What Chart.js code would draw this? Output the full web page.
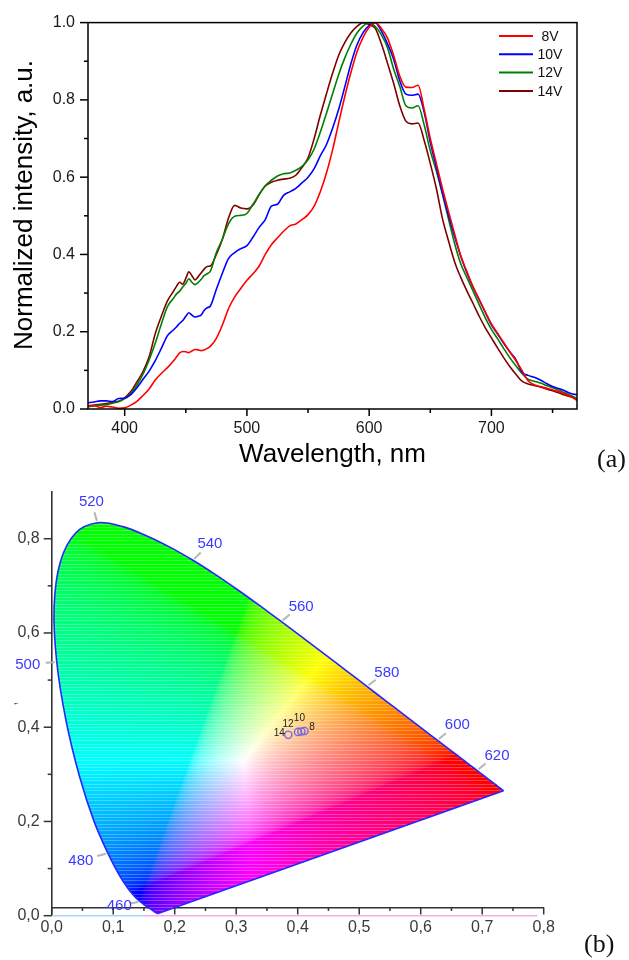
<!DOCTYPE html>
<html>
<head>
<meta charset="utf-8">
<script src="https://cdn.jsdelivr.net/npm/chart.js@4.4.1/dist/chart.umd.min.js"></script>
<style>
  html, body { margin: 0; padding: 0; background: #fff; }
  body { width: 629px; height: 960px; position: relative; overflow: hidden; }
  canvas { position: absolute; left: 0; }
  #spec { top: 0; }
  #cie { top: 470px; }
  .tag { position: absolute; font-family: 'Liberation Serif', 'Times New Roman', serif; font-size: 26px; line-height: 1; color: #111; }
</style>
</head>
<body>
<canvas id="spec" width="629" height="470"></canvas>
<canvas id="cie" width="629" height="490"></canvas>
<div class="tag" style="left:597px; top:446px;">(a)</div>
<div class="tag" style="left:584px; top:931px;">(b)</div>
<script>
// ---------- (a) normalized EL spectra ----------
const wavelengths = [370, 375, 380, 385, 390, 395, 400, 405, 410, 415, 420, 425, 430, 435, 440,
  442.5, 445, 447.5, 450, 452.5, 455, 457.5, 460, 462.5, 465, 467.5, 470,
  475, 480, 485, 490, 495, 500, 505, 510, 515, 520, 525, 530, 535, 540, 545, 550, 555, 560,
  565, 570, 575, 580, 585, 590, 595, 600, 605, 610, 615, 620, 625, 630, 635, 640, 645, 650,
  655, 660, 665, 670, 675, 680, 685, 690, 695, 700, 705, 710, 715, 720, 725, 730, 735, 740,
  745, 750, 755, 760, 765, 770];

const v8 = [0.007, 0.009, 0.004, 0.007, 0.005, 0.002, 0.003, 0.010, 0.020, 0.035, 0.052, 0.075, 0.092, 0.107, 0.125,
  0.135, 0.145, 0.149, 0.148, 0.146, 0.150, 0.154, 0.153, 0.151, 0.153, 0.157, 0.162,
  0.183, 0.218, 0.260, 0.290, 0.312, 0.333, 0.350, 0.370, 0.400, 0.425, 0.443, 0.460, 0.474, 0.479, 0.490, 0.503, 0.525, 0.562,
  0.610, 0.670, 0.740, 0.808, 0.870, 0.924, 0.962, 0.988, 1.000, 0.985, 0.960, 0.915, 0.862, 0.833, 0.832, 0.838, 0.775, 0.700,
  0.635, 0.570, 0.510, 0.452, 0.395, 0.355, 0.316, 0.283, 0.251, 0.220, 0.196, 0.172, 0.148, 0.125, 0.100, 0.073, 0.063, 0.058,
  0.054, 0.049, 0.045, 0.039, 0.032, 0.022];

const v10 = [0.016, 0.018, 0.021, 0.021, 0.019, 0.027, 0.028, 0.037, 0.055, 0.077, 0.098, 0.125, 0.157, 0.190, 0.205,
  0.213, 0.222, 0.229, 0.240, 0.249, 0.243, 0.238, 0.240, 0.243, 0.255, 0.262, 0.266,
  0.310, 0.352, 0.390, 0.405, 0.415, 0.423, 0.445, 0.470, 0.490, 0.525, 0.530, 0.553, 0.562, 0.571, 0.585, 0.600, 0.622, 0.655,
  0.684, 0.726, 0.775, 0.833, 0.893, 0.942, 0.974, 0.993, 1.000, 0.978, 0.945, 0.905, 0.850, 0.815, 0.812, 0.815, 0.768, 0.690,
  0.625, 0.558, 0.500, 0.445, 0.395, 0.352, 0.315, 0.283, 0.250, 0.218, 0.194, 0.170, 0.148, 0.128, 0.095, 0.087, 0.082, 0.075,
  0.066, 0.058, 0.053, 0.047, 0.040, 0.037];

const v12 = [0.006, 0.008, 0.010, 0.011, 0.015, 0.019, 0.027, 0.040, 0.062, 0.090, 0.127, 0.170, 0.220, 0.265, 0.287,
  0.298, 0.305, 0.316, 0.325, 0.337, 0.328, 0.322, 0.327, 0.335, 0.345, 0.350, 0.356,
  0.405, 0.440, 0.480, 0.499, 0.501, 0.506, 0.530, 0.555, 0.578, 0.592, 0.603, 0.609, 0.611, 0.618, 0.628, 0.645, 0.673, 0.716,
  0.765, 0.815, 0.865, 0.908, 0.944, 0.973, 0.991, 1.000, 0.990, 0.968, 0.935, 0.880, 0.835, 0.785, 0.779, 0.785, 0.735, 0.668,
  0.615, 0.555, 0.490, 0.427, 0.375, 0.340, 0.305, 0.270, 0.236, 0.206, 0.182, 0.157, 0.133, 0.112, 0.092, 0.077, 0.072, 0.067,
  0.061, 0.055, 0.049, 0.042, 0.035, 0.027];

const v14 = [0.008, 0.010, 0.012, 0.014, 0.017, 0.020, 0.029, 0.045, 0.070, 0.097, 0.135, 0.195, 0.240, 0.280, 0.305,
  0.318, 0.328, 0.323, 0.338, 0.355, 0.345, 0.334, 0.342, 0.352, 0.362, 0.369, 0.370,
  0.400, 0.440, 0.495, 0.527, 0.520, 0.518, 0.528, 0.555, 0.577, 0.587, 0.592, 0.595, 0.597, 0.605, 0.625, 0.650, 0.700, 0.760,
  0.815, 0.868, 0.915, 0.948, 0.973, 0.990, 1.000, 0.995, 0.985, 0.945, 0.895, 0.843, 0.785, 0.745, 0.738, 0.740, 0.695, 0.635,
  0.570, 0.492, 0.434, 0.380, 0.340, 0.305, 0.273, 0.240, 0.210, 0.184, 0.158, 0.133, 0.110, 0.090, 0.072, 0.065, 0.061, 0.057,
  0.052, 0.047, 0.042, 0.036, 0.031, 0.025];

const seriesNames = ['8V', '10V', '12V', '14V'];
const seriesColors = ['#ff0000', '#0000ff', '#008000', '#800000'];
const specXTicks = [400, 500, 600, 700];
const specXMinor = [450, 550, 650, 750];
const specYTicks = [0, 0.2, 0.4, 0.6, 0.8, 1.0];
const specYMinor = [0.1, 0.3, 0.5, 0.7, 0.9];

// ---------- (b) CIE 1931 chromaticity ----------
const locusWl = [380, 400, 420, 430, 440, 445, 450, 455, 460, 465, 470, 475, 480, 485, 490, 495, 500,
  505, 510, 515, 520, 525, 530, 535, 540, 545, 550, 555, 560, 565, 570, 575, 580, 585, 590, 595,
  600, 605, 610, 615, 620, 625, 630, 635, 640, 650, 660, 680, 700];
const locusX = [0.1741, 0.1733, 0.1714, 0.1689, 0.1644, 0.1611, 0.1566, 0.1510, 0.1440, 0.1355, 0.1241, 0.1096, 0.0913, 0.0687, 0.0454, 0.0235, 0.0082,
  0.0039, 0.0139, 0.0389, 0.0743, 0.1142, 0.1547, 0.1929, 0.2296, 0.2658, 0.3016, 0.3373, 0.3731, 0.4087, 0.4441, 0.4788, 0.5125, 0.5448, 0.5752, 0.6029,
  0.6270, 0.6482, 0.6658, 0.6801, 0.6915, 0.7006, 0.7079, 0.7140, 0.7190, 0.7260, 0.7300, 0.7334, 0.7347];
const locusY = [0.0050, 0.0048, 0.0051, 0.0069, 0.0109, 0.0138, 0.0177, 0.0227, 0.0297, 0.0399, 0.0578, 0.0868, 0.1327, 0.2007, 0.2950, 0.4127, 0.5384,
  0.6548, 0.7502, 0.8120, 0.8338, 0.8262, 0.8059, 0.7816, 0.7543, 0.7243, 0.6923, 0.6589, 0.6245, 0.5896, 0.5547, 0.5202, 0.4866, 0.4544, 0.4242, 0.3965,
  0.3725, 0.3514, 0.3340, 0.3197, 0.3083, 0.2993, 0.2920, 0.2859, 0.2809, 0.2740, 0.2700, 0.2666, 0.2653];
const markedWl = [460, 480, 500, 520, 540, 560, 580, 600, 620];

const sampleNames = ['8', '10', '12', '14'];
const sampleX = [0.411, 0.406, 0.4005, 0.3847];
const sampleY = [0.392, 0.391, 0.390, 0.384];

const cieXTicks = [0, 0.1, 0.2, 0.3, 0.4, 0.5, 0.6, 0.7, 0.8];
const cieXMinor = [0.05, 0.15, 0.25, 0.35, 0.45, 0.55, 0.65, 0.75];
const cieYTicks = [0, 0.2, 0.4, 0.6, 0.8];
const cieYMinor = [0.1, 0.3, 0.5, 0.7];
const baseX = [0, 0.15, 0.79];   // coloured line along y = 0
const xAxisAt = 0.0175;          // the x axis line sits a little above y = 0

Chart.defaults.font.family = "'Liberation Sans', Arial, sans-serif";
Chart.defaults.animation = false;
Chart.defaults.plugins.legend.display = false;
Chart.defaults.plugins.tooltip.enabled = false;

// tick marks drawn per value, so majors and minors can have their own length
function makeTicks(sets, color, width) {
  return {
    id: 'tickMarks',
    afterDatasetsDraw(chart) {
      const {ctx, chartArea: a, scales} = chart;
      ctx.save();
      ctx.strokeStyle = color;
      ctx.lineWidth = width;
      sets.forEach(set => {
        const s = scales[set.axis];
        set.values.forEach(v => {
          const p = s.getPixelForValue(v);
          ctx.beginPath();
          if (s.isHorizontal()) {
            const y0 = set.atY === undefined ? a.bottom : scales.y.getPixelForValue(set.atY);
            ctx.moveTo(p, y0);
            ctx.lineTo(p, y0 + set.len);
          } else {
            ctx.moveTo(a.left, p);
            ctx.lineTo(a.left - set.len, p);
          }
          ctx.stroke();
        });
      });
      ctx.restore();
    }
  };
}

const frame = {
  id: 'frame',
  afterDatasetsDraw(chart) {
    const {ctx, chartArea: a} = chart;
    ctx.save();
    ctx.strokeStyle = '#000';
    ctx.lineWidth = 1.5;
    ctx.strokeRect(a.left, a.top, a.right - a.left, a.bottom - a.top);
    ctx.restore();
  }
};

// legend in the upper right corner: short line, then centred label
const lineLegend = {
  id: 'lineLegend',
  afterDatasetsDraw(chart) {
    const {ctx, chartArea: a} = chart;
    ctx.save();
    ctx.font = "14px 'Liberation Sans', Arial, sans-serif";
    ctx.textAlign = 'center';
    ctx.textBaseline = 'middle';
    chart.data.datasets.forEach((ds, i) => {
      const y = a.top + 13.3 + i * 18.35;
      ctx.strokeStyle = ds.borderColor;
      ctx.lineWidth = 2;
      ctx.beginPath();
      ctx.moveTo(a.right - 78, y);
      ctx.lineTo(a.right - 44, y);
      ctx.stroke();
      ctx.fillStyle = '#111';
      ctx.fillText(ds.label, a.right - 27, y + 1);
    });
    ctx.restore();
  }
};

const specSets = [v8, v10, v12, v14];

new Chart(document.getElementById('spec'), {
  type: 'line',
  data: {
    datasets: specSets.map((vals, k) => ({
      label: seriesNames[k],
      data: wavelengths.map((w, i) => ({x: w, y: vals[i]})),
      borderColor: seriesColors[k],
      borderWidth: 1.6,
      pointRadius: 0,
      cubicInterpolationMode: 'monotone',
      fill: false
    }))
  },
  options: {
    responsive: false,
    devicePixelRatio: 1,
    layout: {padding: {top: 15, right: 52, bottom: 0, left: 0}},
    scales: {
      x: {
        type: 'linear', min: 370, max: 770,
        afterBuildTicks: s => { s.ticks = specXTicks.map(v => ({value: v})); },
        afterFit: s => { s.height = 61; },
        grid: {display: false, drawTicks: false},
        border: {display: false},
        ticks: {font: {size: 16}, color: '#1a1a1a', padding: 10, maxRotation: 0, autoSkip: false,
          callback: v => String(v)},
        title: {display: true, text: 'Wavelength, nm', font: {size: 26}, color: '#000', padding: {top: 0, bottom: 0}}
      },
      y: {
        min: 0, max: 1,
        afterBuildTicks: s => { s.ticks = specYTicks.map(v => ({value: v})); },
        afterFit: s => { s.width = 88; },
        grid: {display: false, drawTicks: false},
        border: {display: false},
        ticks: {font: {size: 16}, color: '#1a1a1a', padding: 13, callback: v => v.toFixed(1)},
        // leading spaces nudge the rotated title up a little, as in the original
        title: {display: true, text: '   Normalized intensity, a.u.', font: {size: 26}, color: '#000', padding: {top: 9, bottom: 0}}
      }
    }
  },
  plugins: [frame, lineLegend, makeTicks([
    {axis: 'x', values: specXTicks, len: 7},
    {axis: 'x', values: specXMinor, len: 4},
    {axis: 'y', values: specYTicks, len: 8},
    {axis: 'y', values: specYMinor, len: 4}
  ], '#000', 1.5)]
});

// ---- CIE helpers ----
function gammaC(c) {
  return c <= 0.0031308 ? 12.92 * c : 1.055 * Math.pow(c, 1 / 2.4) - 0.055;
}

// colour every pixel inside the locus by its own chromaticity (xyY, Y=1 -> sRGB)
const gamutFill = {
  id: 'gamutFill',
  beforeDatasetsDraw(chart) {
    const {ctx, chartArea: a, scales} = chart;
    const meta = chart.getDatasetMeta(0);
    const left = Math.floor(a.left), top = Math.floor(a.top);
    const w = Math.ceil(a.right) - left, h = Math.ceil(a.bottom) - top;
    const off = document.createElement('canvas');
    off.width = w;
    off.height = h;
    const octx = off.getContext('2d');
    const img = octx.createImageData(w, h);
    for (let j = 0; j < h; j++) {
      const cy = scales.y.getValueForPixel(top + j + 0.5);
      if (cy <= 0.0005) continue;
      const stripe = Math.floor((j + 1) * 0.3) !== Math.floor(j * 0.3);
      for (let i = 0; i < w; i++) {
        const cx = scales.x.getValueForPixel(left + i + 0.5);
        const X = cx / cy, Z = (1 - cx - cy) / cy;
        let r = 3.2406 * X - 1.5372 - 0.4986 * Z;
        let g = -0.9689 * X + 1.8758 + 0.0415 * Z;
        let b = 0.0557 * X - 0.2040 + 1.0570 * Z;
        r = Math.max(r, 0); g = Math.max(g, 0); b = Math.max(b, 0);
        const m = Math.max(r, g, b) || 1;
        r = gammaC(r / m); g = gammaC(g / m); b = gammaC(b / m);
        if (stripe) {
          r = r + (1 - r) * 0.25; g = g + (1 - g) * 0.25; b = b + (1 - b) * 0.25;
        }
        const k = (j * w + i) * 4;
        img.data[k] = r * 255;
        img.data[k + 1] = g * 255;
        img.data[k + 2] = b * 255;
        img.data[k + 3] = 255;
      }
    }
    octx.putImageData(img, 0, 0);
    ctx.save();
    ctx.beginPath();
    const line = meta.dataset;
    if (line && typeof line.path === 'function') {
      if (typeof line.updateControlPoints === 'function') line.updateControlPoints(a, 'x');
      line.path(ctx);
    } else {
      meta.data.forEach((p, i) => (i ? ctx.lineTo(p.x, p.y) : ctx.moveTo(p.x, p.y)));
    }
    ctx.closePath();
    ctx.clip();
    ctx.drawImage(off, left, top);
    ctx.restore();
  }
};

// wavelength marks on the locus: grey tick pointing outwards + blue number
const wlOffsets = {
  460: [-21, 3.5], 480: [-27, 7], 500: [-29, 2], 520: [-6, -21.5], 540: [17, -17],
  560: [20, -16], 580: [20, -15], 600: [20, -16], 620: [20, -16]
};
const wlLabels = {
  id: 'wlLabels',
  afterDatasetsDraw(chart) {
    const {ctx} = chart;
    const pts = chart.getDatasetMeta(0).data;
    ctx.save();
    ctx.font = "15px 'Liberation Sans', Arial, sans-serif";
    ctx.textAlign = 'center';
    ctx.textBaseline = 'middle';
    markedWl.forEach(wl => {
      const p = pts[locusWl.indexOf(wl)];
      const [dx, dy] = wlOffsets[wl];
      const d = Math.hypot(dx, dy);
      const ux = dx / d, uy = dy / d;
      ctx.strokeStyle = '#b4b4b4';
      ctx.lineWidth = 2;
      ctx.beginPath();
      ctx.moveTo(p.x + ux * 2, p.y + uy * 2);
      ctx.lineTo(p.x + ux * 11, p.y + uy * 11);
      ctx.stroke();
      ctx.fillStyle = '#3a3aff';
      ctx.fillText(String(wl), p.x + dx, p.y + dy + 1);
    });
    ctx.restore();
  }
};

const sampleOffsets = {'8': [7.5, -4], '10': [-2, -13], '12': [-10, -7.5], '14': [-9, -2]};
const sampleLabels = {
  id: 'sampleLabels',
  afterDatasetsDraw(chart) {
    const {ctx} = chart;
    const pts = chart.getDatasetMeta(3).data;
    ctx.save();
    ctx.font = "10px 'Liberation Sans', Arial, sans-serif";
    ctx.textAlign = 'center';
    ctx.textBaseline = 'middle';
    ctx.fillStyle = '#222';
    sampleNames.forEach((n, i) => {
      const [dx, dy] = sampleOffsets[n];
      ctx.fillText(n, pts[i].x + dx, pts[i].y + dy);
    });
    ctx.restore();
  }
};

const lastIdx = locusX.length - 1;
const fmtComma = v => v.toFixed(1).replace('.', ',');

new Chart(document.getElementById('cie'), {
  type: 'line',
  data: {
    datasets: [
      {
        data: locusX.map((x, i) => ({x, y: locusY[i]})),
        borderColor: '#2626ff', borderWidth: 1.6, pointRadius: 0, tension: 0.35, fill: false, clip: false
      },
      {
        data: [{x: locusX[lastIdx], y: locusY[lastIdx]}, {x: locusX[0], y: locusY[0]}],
        borderColor: '#2626ff', borderWidth: 1.6, pointRadius: 0, fill: false, clip: false
      },
      {
        data: baseX.map(x => ({x, y: 0})),
        borderWidth: 1.5, pointRadius: 0, fill: false, clip: false,
        borderColor: '#ffa8e6',
        segment: {borderColor: c => (c.p0DataIndex === 0 ? '#a8d4ff' : '#ffa8e6')}
      },
      {
        data: sampleX.map((x, i) => ({x, y: sampleY[i]})),
        showLine: false, pointRadius: 3.6, pointBorderWidth: 1.4,
        pointBorderColor: '#7466e6', pointBackgroundColor: 'rgba(0,0,0,0)', borderColor: '#7466e6'
      }
    ]
  },
  options: {
    responsive: false,
    devicePixelRatio: 1,
    layout: {padding: {top: 18.2, right: 85.3, bottom: 44.3, left: 0}},
    scales: {
      x: {
        type: 'linear', min: 0, max: 0.8,
        position: {y: xAxisAt},
        afterBuildTicks: s => { s.ticks = cieXTicks.map(v => ({value: v})); },
        grid: {display: false, drawTicks: false},
        border: {display: true, color: '#333', width: 1.6},
        ticks: {font: {size: 16}, color: '#3a3a3a', padding: 11, maxRotation: 0, autoSkip: false, callback: fmtComma}
      },
      y: {
        min: 0, max: 0.9,
        afterBuildTicks: s => { s.ticks = cieYTicks.map(v => ({value: v})); },
        afterFit: s => { s.width = 51.7; },
        grid: {display: false, drawTicks: false},
        border: {display: true, color: '#333', width: 1.6},
        ticks: {font: {size: 16}, color: '#3a3a3a', padding: 12, callback: fmtComma},
        title: {display: true, text: ',', font: {size: 14}, color: '#555', padding: {top: 4, bottom: 0}}
      }
    }
  },
  plugins: [gamutFill, wlLabels, sampleLabels, makeTicks([
    {axis: 'x', values: cieXTicks, len: 7, atY: xAxisAt},
    {axis: 'x', values: cieXMinor, len: 3.5, atY: xAxisAt},
    {axis: 'y', values: cieYTicks, len: 8},
    {axis: 'y', values: cieYMinor, len: 4}
  ], '#333', 1.5)]
});
</script>
</body>
</html>
